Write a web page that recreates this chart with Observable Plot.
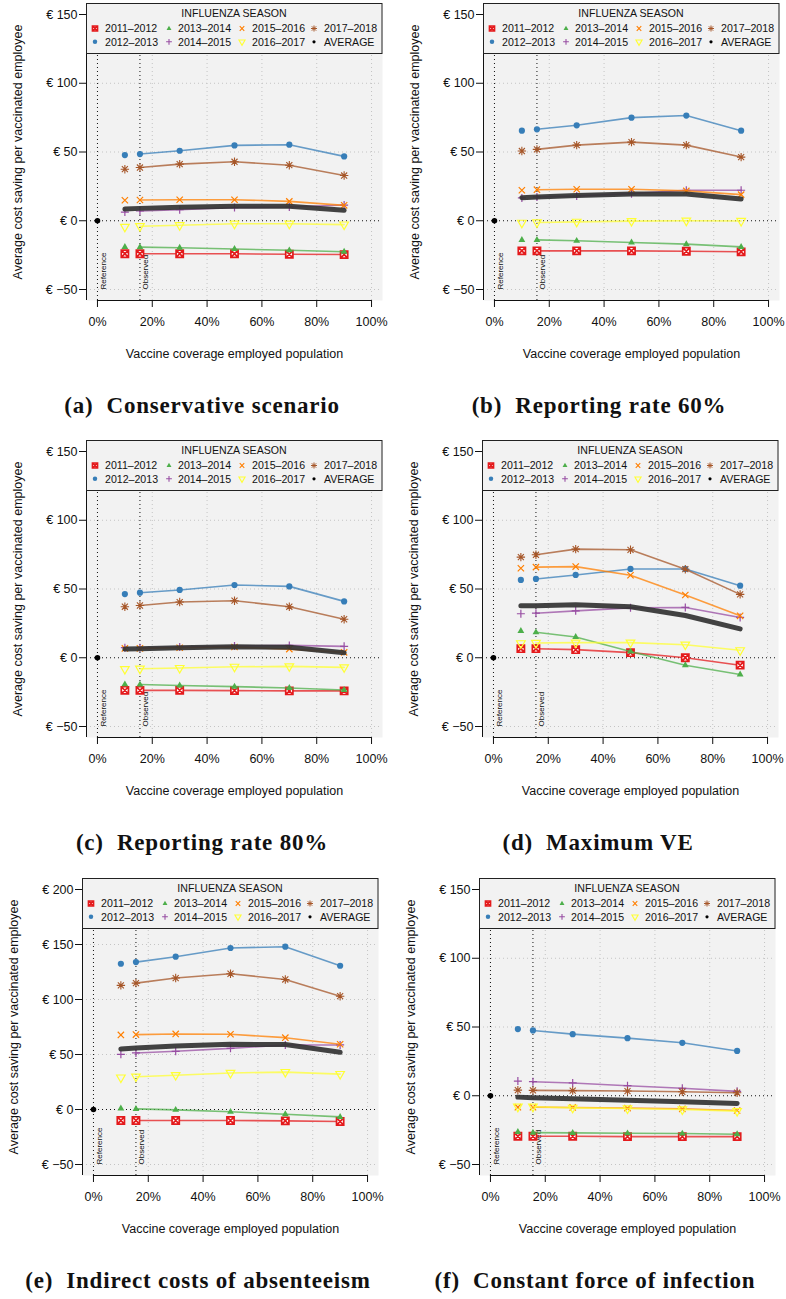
<!DOCTYPE html>
<html>
<head>
<meta charset="utf-8">
<script src="https://cdn.jsdelivr.net/npm/d3@7"></script>
<script src="https://cdn.jsdelivr.net/npm/@observablehq/plot@0.6"></script>
<style>
  body { margin: 0; background: #fff; }
  #page { position: relative; width: 786px; height: 1299px; overflow: hidden; }
  .panel { position: absolute; width: 393px; height: 430px; }
  .panel svg { position: absolute; left: 0; top: 0; }
  .caption {
    position: absolute; left: 0; width: 404px; top: 393px; height: 26px; line-height: 26px;
    text-align: center; white-space: pre; letter-spacing: 0.8px;
    font-family: "Liberation Serif", "Times New Roman", serif; font-weight: bold; font-size: 23px; color: #111;
  }
</style>
</head>
<body>
<div id="page"></div>
<script>
// Coverage levels (%) at which each scenario was evaluated; 15.5% is the observed coverage
const coverage = [10, 15.5, 30, 50, 70, 90];
const observedCoverage = 15.5;

const seasons = ["2011–2012", "2012–2013", "2013–2014", "2014–2015", "2015–2016", "2016–2017", "2017–2018"];
const seasonColors = ["#E41A1C", "#377EB8", "#4DAF4A", "#984EA3", "#FF7F00", "#FFFF33", "#A65628"];

const xTicks = [0, 20, 40, 60, 80, 100];
const yTicksStandard = [-50, 0, 50, 100, 150];
const yTicksWide = [-50, 0, 50, 100, 150, 200];

// Average cost saving per vaccinated employee (€), one row per season, last row = average
const conservative = [
  [-24.0, -24.0, -24.0, -24.0, -24.4, -24.6],
  [47.8, 48.5, 50.9, 54.8, 55.3, 46.8],
  [-19.0, -19.2, -19.6, -20.5, -21.5, -22.5],
  [6.3, 7.1, 8.0, 9.6, 10.0, 11.4],
  [14.9, 15.1, 15.3, 15.3, 14.1, 11.2],
  [-4.5, -4.0, -3.3, -2.2, -2.2, -2.8],
  [37.5, 38.7, 41.2, 42.9, 40.4, 32.9],
  [8.5, 9.0, 9.8, 10.5, 10.5, 7.6]
];
const reporting60 = [
  [-21.9, -21.9, -21.9, -21.9, -22.2, -22.6],
  [65.5, 66.5, 69.4, 75.0, 76.5, 65.5],
  [-13.9, -13.9, -14.6, -15.8, -17.0, -19.0],
  [16.6, 17.3, 18.0, 19.7, 22.2, 22.2],
  [22.2, 22.6, 22.9, 22.9, 21.7, 19.0],
  [-1.5, -1.3, -0.8, -0.3, 0.0, -0.2],
  [50.7, 51.9, 55.0, 57.2, 55.0, 46.3],
  [16.8, 17.3, 18.3, 19.5, 19.5, 15.8]
];
const reporting80 = [
  [-23.7, -23.7, -23.7, -23.9, -24.1, -24.1],
  [46.3, 47.3, 49.3, 52.9, 51.9, 41.0],
  [-19.3, -19.5, -20.2, -21.0, -22.0, -23.4],
  [7.3, 7.3, 7.8, 8.5, 9.0, 8.3],
  [6.8, 6.8, 7.3, 7.8, 6.3, 3.9],
  [-8.3, -8.0, -7.5, -6.6, -6.3, -7.0],
  [37.1, 38.0, 40.5, 41.5, 37.1, 28.0],
  [6.3, 6.6, 7.3, 8.0, 7.6, 3.7]
];
const maximumVE = [
  [6.6, 6.6, 5.9, 3.7, 0.0, -5.4],
  [56.6, 57.3, 60.2, 64.6, 64.6, 52.4],
  [19.5, 18.5, 15.1, 4.6, -5.4, -12.2],
  [32.0, 32.4, 34.1, 36.3, 36.6, 29.3],
  [65.1, 65.9, 66.3, 60.0, 45.6, 30.5],
  [10.5, 10.7, 11.0, 11.0, 9.5, 5.4],
  [73.2, 74.9, 79.0, 78.5, 64.4, 46.1],
  [37.8, 37.8, 38.5, 37.1, 30.7, 21.0]
];
const absenteeism = [
  [-10.0, -10.0, -10.0, -10.0, -10.3, -10.9],
  [132.5, 134.0, 138.9, 146.8, 148.0, 130.7],
  [0.9, 0.6, -0.3, -2.1, -4.3, -6.7],
  [50.2, 51.4, 52.9, 55.6, 58.7, 58.7],
  [67.8, 68.1, 68.7, 68.4, 65.3, 59.3],
  [29.0, 29.8, 31.2, 33.2, 34.0, 32.2],
  [112.8, 114.9, 119.5, 123.4, 118.2, 103.0],
  [55.0, 55.9, 57.8, 59.3, 59.0, 52.0]
];
const constantForce = [
  [-29.5, -29.5, -29.5, -29.7, -29.7, -29.7],
  [48.5, 47.5, 44.8, 41.9, 38.5, 32.6],
  [-26.3, -26.8, -27.0, -27.3, -27.5, -28.0],
  [10.7, 10.2, 9.3, 7.3, 5.4, 3.2],
  [-8.3, -8.3, -8.5, -9.0, -9.5, -10.7],
  [-8.0, -8.0, -8.8, -9.3, -10.0, -11.2],
  [4.1, 3.9, 3.7, 3.4, 2.9, 2.2],
  [-1.0, -1.5, -2.2, -3.2, -4.4, -5.6]
];

const captions = [
  "(a)  Conservative scenario",
  "(b)  Reporting rate 60%",
  "(c)  Reporting rate 80%",
  "(d)  Maximum VE",
  "(e)  Indirect costs of absenteeism",
  "(f)  Constant force of infection"
];

// Marker shapes similar to R plotting symbols; the radius is derived from the size Plot passes in
const shape = (fn) => ({ draw(ctx, size) { fn(ctx, Math.sqrt(size / Math.PI)); } });
const squareX = shape((c, r) => {
  c.moveTo(-r, -r); c.lineTo(r, -r); c.lineTo(r, r); c.lineTo(-r, r); c.closePath();
  c.moveTo(-r, -r); c.lineTo(r, r); c.moveTo(r, -r); c.lineTo(-r, r);
});
const disc = shape((c, r) => { c.moveTo(r, 0); c.arc(0, 0, r, 0, 2 * Math.PI); });
const triangleUp = shape((c, r) => {
  c.moveTo(0, -r * 1.15); c.lineTo(r, r * 0.6); c.lineTo(-r, r * 0.6); c.closePath();
});
const plusSign = shape((c, r) => { c.moveTo(-r, 0); c.lineTo(r, 0); c.moveTo(0, -r); c.lineTo(0, r); });
const timesSign = shape((c, r) => {
  const a = r * 0.75;
  c.moveTo(-a, -a); c.lineTo(a, a); c.moveTo(a, -a); c.lineTo(-a, a);
});
const triangleDown = shape((c, r) => {
  c.moveTo(-r, -r * 0.6); c.lineTo(r, -r * 0.6); c.lineTo(0, r * 1.15); c.closePath();
});
const asterisk8 = shape((c, r) => {
  const a = r * 0.72;
  c.moveTo(-r, 0); c.lineTo(r, 0); c.moveTo(0, -r); c.lineTo(0, r);
  c.moveTo(-a, -a); c.lineTo(a, a); c.moveTo(a, -a); c.lineTo(-a, a);
});

const markerStyles = [
  { symbol: squareX, r: 3.6, fill: "white", strokeWidth: 1.7, stroked: true },
  { symbol: disc, r: 3.1, filled: true },
  { symbol: triangleUp, r: 3.4, filled: true },
  { symbol: plusSign, r: 4.0, strokeWidth: 1.2, stroked: true, fill: "none" },
  { symbol: timesSign, r: 4.2, strokeWidth: 1.2, stroked: true, fill: "none" },
  { symbol: triangleDown, r: 4.3, strokeWidth: 1.2, stroked: true, fill: "none" },
  { symbol: asterisk8, r: 4.2, strokeWidth: 1.1, stroked: true, fill: "none" }
];

const fontSans = "'Liberation Sans', Arial, Helvetica, sans-serif";
const euro = (d) => "€ " + (d < 0 ? "−" + (-d) : d);

function seasonMarks(rows) {
  const marks = [];
  seasons.forEach((name, i) => {
    const pts = coverage.map((x, j) => ({ season: name, x, y: rows[i][j] }));
    const color = seasonColors[i];
    const m = markerStyles[i];
    // the season curves start at the observed coverage level
    marks.push(Plot.line(pts.filter((d) => d.x >= observedCoverage), {
      x: "x", y: "y", stroke: color, strokeWidth: 1.6, strokeOpacity: 0.75
    }));
    marks.push(Plot.dot(pts, {
      x: "x", y: "y", symbol: m.symbol, r: m.r,
      fill: m.filled ? color : m.fill,
      stroke: m.stroked ? color : "none",
      strokeWidth: m.strokeWidth || 1
    }));
  });
  const avg = coverage.map((x, j) => ({ x, y: rows[7][j] }));
  marks.push(Plot.line(avg, {
    x: "x", y: "y", stroke: "#333", strokeWidth: 5, strokeOpacity: 0.92, strokeLinecap: "round"
  }));
  return marks;
}

const legendItems = seasons.map((s, i) => ({ label: s, color: seasonColors[i], style: markerStyles[i] }))
  .concat([{ label: "AVERAGE", color: "black", style: { symbol: disc, r: 2.2, filled: true } }]);

function drawLegend(svg, left, right, top) {
  const width = right - left;
  const g = d3.select(svg).append("g").attr("font-family", fontSans).attr("text-anchor", "start");
  g.append("rect")
    .attr("x", left + 0.5).attr("y", top + 0.5).attr("width", width - 0.5).attr("height", 50)
    .attr("fill", "#f2f2f2").attr("stroke", "#222").attr("stroke-width", 1);
  g.append("text").attr("x", left + width / 2).attr("y", top + 10).attr("dy", "0.35em")
    .attr("text-anchor", "middle").attr("font-size", 10.6).attr("fill", "#111").text("INFLUENZA SEASON");
  const markerX = [9, 83, 156, 228];
  const textX = [19, 92, 166, 238];
  const rowY = [25.5, 38.8];
  legendItems.forEach((it, k) => {
    const col = Math.floor(k / 2), row = k % 2;
    const st = it.style;
    const size = Math.PI * Math.pow(st.r * 0.72, 2);
    g.append("path")
      .attr("transform", `translate(${left + markerX[col]},${top + rowY[row]})`)
      .attr("d", d3.symbol(st.symbol, size)())
      .attr("fill", st.filled ? it.color : (st.fill || "none"))
      .attr("stroke", st.stroked ? it.color : "none")
      .attr("stroke-width", (st.strokeWidth || 1) * 0.9);
    g.append("text").attr("x", left + textX[col]).attr("y", top + rowY[row]).attr("dy", "0.35em")
      .attr("text-anchor", "start").attr("font-size", 10.6).attr("fill", "#111").text(it.label);
  });
}

function makePanel(rows, yDomain, yTicks) {
  const refLabels = [
    { x: 0, label: "Reference" },
    { x: observedCoverage, label: "Observed" }
  ];
  const chart = Plot.plot({
    width: 393,
    height: 375,
    marginLeft: 86,
    marginRight: 11,
    marginTop: 3,
    marginBottom: 75,
    style: { fontFamily: fontSans, background: "transparent", color: "#111", overflow: "visible" },
    x: { domain: [-4, 104], axis: null },
    y: { domain: yDomain, axis: null },
    marks: [
      Plot.frame({ fill: "#f2f2f2", stroke: "none" }),
      Plot.gridX(xTicks.slice(1), { stroke: "#c4c4c4", strokeOpacity: 1, strokeDasharray: "1,3" }),
      Plot.gridY(yTicks.filter((d) => d !== 0), { stroke: "#c4c4c4", strokeOpacity: 1, strokeDasharray: "1,3" }),
      Plot.ruleY([0], { stroke: "#111", strokeDasharray: "1,3" }),
      Plot.ruleX(refLabels, { x: "x", stroke: "#111", strokeDasharray: "1,3" }),
      Plot.text(refLabels, {
        x: "x", y: () => yTicks[0], text: "label", rotate: -90, textAnchor: "start",
        lineAnchor: "bottom", dx: 8.5, fontSize: 8, fill: "#111"
      }),
      ...seasonMarks(rows),
      Plot.dot([{ x: 0, y: 0 }], { x: "x", y: "y", r: 2.8, fill: "black" }),
      Plot.ruleX([-4], { stroke: "#111", strokeWidth: 1 }),
      Plot.ruleY([yDomain[0]], { x1: xTicks[0], x2: xTicks[xTicks.length - 1], stroke: "#111", strokeWidth: 1 }),
      Plot.axisY(yTicks, {
        anchor: "left", tickSize: 7, tickPadding: 2, tickFormat: euro, fontSize: 12.5, label: null
      }),
      Plot.axisX(xTicks, {
        anchor: "bottom", tickSize: 7, tickPadding: 10, tickFormat: (d) => d + "%", fontSize: 12.5, label: null
      }),
      Plot.text(["Average cost saving per vaccinated employee"], {
        frameAnchor: "left", dx: -69, rotate: -90, fontSize: 12.5, textAnchor: "middle", lineAnchor: "middle", fill: "#111"
      }),
      Plot.text(["Vaccine coverage employed population"], {
        frameAnchor: "bottom", dy: 53, fontSize: 12.5, textAnchor: "middle", lineAnchor: "middle", fill: "#111"
      })
    ]
  });
  const xr = chart.scale("x").range;
  const yr = chart.scale("y").range;
  drawLegend(chart, Math.min(...xr), Math.max(...xr), Math.min(...yr));
  return chart;
}

const panels = [
  { rows: conservative, left: 0, top: 0, domain: [-58, 158], ticks: yTicksStandard },
  { rows: reporting60, left: 397, top: 0, domain: [-58, 158], ticks: yTicksStandard },
  { rows: reporting80, left: 0, top: 437, domain: [-58, 158], ticks: yTicksStandard },
  { rows: maximumVE, left: 396, top: 437, domain: [-58, 158], ticks: yTicksStandard },
  { rows: absenteeism, left: -4, top: 875, domain: [-60, 210], ticks: yTicksWide },
  { rows: constantForce, left: 393, top: 875, domain: [-58, 158], ticks: yTicksStandard }
];

const page = document.getElementById("page");
panels.forEach((p, i) => {
  const div = document.createElement("div");
  div.className = "panel";
  div.style.left = p.left + "px";
  div.style.top = p.top + "px";
  div.appendChild(makePanel(p.rows, p.domain, p.ticks));
  const cap = document.createElement("div");
  cap.className = "caption";
  cap.textContent = captions[i];
  div.appendChild(cap);
  page.appendChild(div);
});
</script>
</body>
</html>
